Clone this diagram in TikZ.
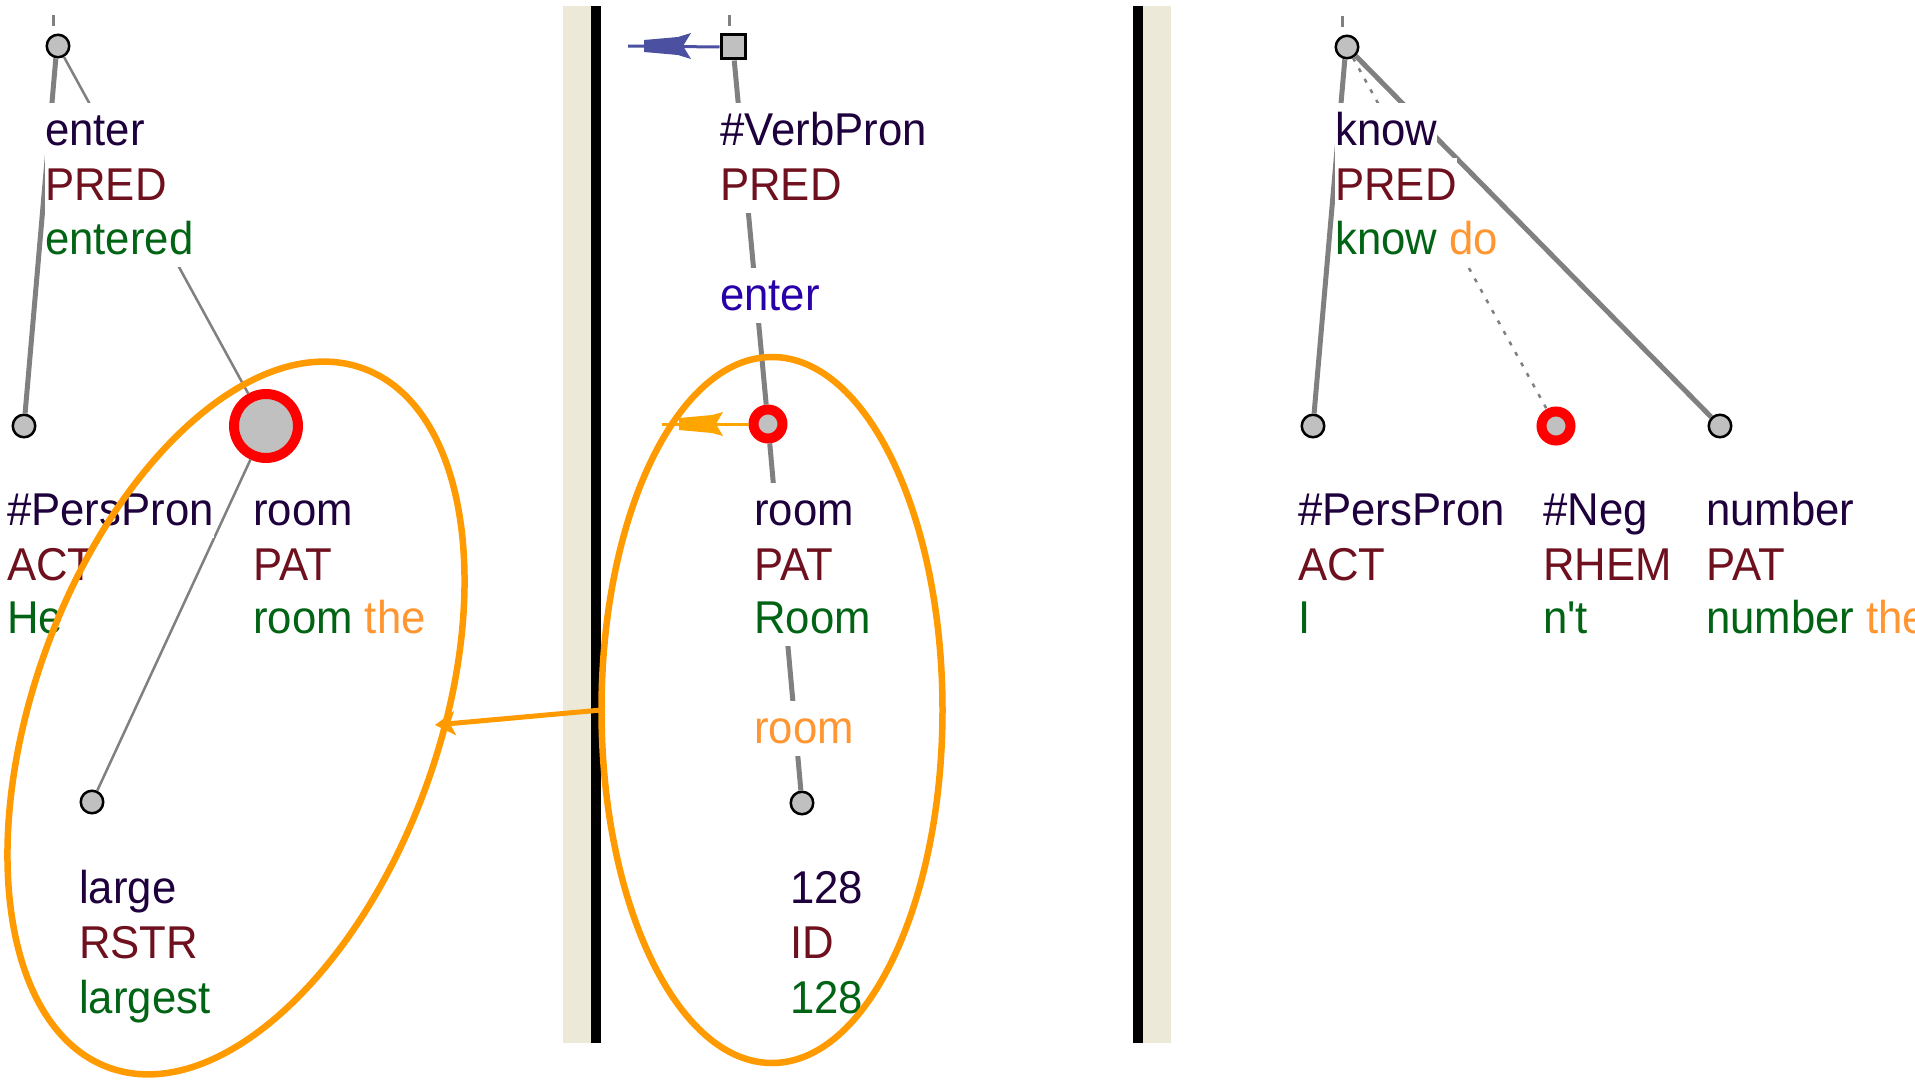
\documentclass[tikz,border=0pt]{standalone}
\usepackage{fontspec}
\setmainfont{Liberation Sans}[FakeStretch=0.95,Ligatures=TeXOff]
\usetikzlibrary{arrows.meta,shapes.geometric}
\definecolor{lem}{RGB}{30,0,60}
\definecolor{fun}{RGB}{110,16,30}
\definecolor{frm}{RGB}{0,100,20}
\definecolor{orw}{RGB}{255,150,50}
\definecolor{blu}{RGB}{40,0,170}
\definecolor{ellc}{RGB}{255,155,0}
\definecolor{arb}{RGB}{75,80,160}
\definecolor{aro}{RGB}{255,165,0}
\definecolor{beige}{RGB}{236,233,216}
\definecolor{ndg}{RGB}{192,192,192}
\definecolor{lng}{RGB}{128,128,128}
\begin{document}
\begin{tikzpicture}[x=1pt,y=1pt,
  txt/.style={anchor=base west, inner xsep=0pt, inner ysep=0pt, text height=42pt, text depth=13pt, fill=white, font=\fontsize{46}{55}\selectfont},
  gnode/.style={circle, draw=black, fill=ndg, line width=2.5pt, minimum size=22.5pt, inner sep=0pt},
  rnode/.style={circle, draw=red, fill=ndg, line width=10pt, minimum size=29pt, inner sep=0pt},
  bigr/.style={circle, draw=red, fill=ndg, line width=10pt, minimum size=64pt, inner sep=0pt},
  sqnode/.style={rectangle, draw=black, fill=ndg, line width=3pt, minimum size=24pt, inner sep=0pt},
  thickl/.style={draw=lng, line width=5pt},
  thinl/.style={draw=lng, line width=2.5pt},
  dotl/.style={draw=lng, line width=2.5pt, dash pattern=on 4pt off 8pt},
  oell/.style={ellipse, draw=ellc, line width=6.5pt, inner sep=0pt, outer sep=0pt},
]
\useasboundingbox (0,0) rectangle (1915,-1081);
\fill[white] (0,0) rectangle (1915,-1081);
% panel separators
\fill[beige] (563,-6) rectangle (591,-1043);
\fill[black] (591,-6) rectangle (601,-1043);
\fill[black] (1133,-6) rectangle (1143,-1043);
\fill[beige] (1143,-6) rectangle (1171,-1043);

% nodes
\node[gnode] (L0) at (58,-46) {};
\node[gnode] (L1) at (24,-426) {};
\node[bigr]  (L2) at (266,-426) {};
\node[gnode] (L3) at (92,-802) {};
\node[sqnode] (M0) at (733,-47) {};
\node[rnode] (M1) at (768,-424) {};
\node[gnode] (M2) at (802,-803) {};
\node[gnode] (R0) at (1347,-47) {};
\node[gnode] (R1) at (1313,-426) {};
\node[rnode] (R2) at (1556,-426) {};
\node[gnode] (R3) at (1720,-426) {};

% stubs above roots
\coordinate (L0s) at (53,-15); \coordinate (L0t) at (53,-26);
\coordinate (M0s) at (729,-15); \coordinate (M0t) at (729,-26);
\coordinate (R0s) at (1342,-16); \coordinate (R0t) at (1342,-27);
\draw[thinl, line width=3pt] (L0s) -- (L0t);
\draw[thinl, line width=3pt] (M0s) -- (M0t);
\draw[thinl, line width=3pt] (R0s) -- (R0t);

% edges
\draw[thickl] (L0.-100) -- (L1);
\draw[thinl] (L0) -- (L2);
\draw[thinl] (L2) -- (L3);
\draw[thickl] (M0) -- (M1);
\draw[thickl] (M1) -- (M2);
\draw[thickl] (R0.-100) -- (R1);
\draw[thickl] (R0) -- (R3);
\draw[dotl] (R0) -- (R2);

% small arrows
\coordinate (bTail) at (628,-46);
\draw[arb, line width=3pt] (M0.west) -- (bTail);
\fill[arb] (644,-40) -- (644,-52) -- (678,-55) -- (691,-59) -- (683,-46) -- (691,-33) -- (678,-37) -- cycle;
\coordinate (oTail) at (662,-424);
\draw[aro, line width=3pt] (M1.west) -- (oTail);
\fill[aro] (679,-418) -- (679,-430) -- (712,-433) -- (723,-436) -- (716,-424) -- (723,-412) -- (712,-415) -- cycle;

% texts left
\node[txt, text=lem] (t1) at (45,-145) {enter};
\node[txt, text=fun] (t2) at (45,-200) {PRED};
\node[txt, text=frm] (t3) at (45,-254) {entered};
\node[txt, text=lem] (t4) at (7,-525) {\#PersPron};
\node[txt, text=fun] (t5) at (7,-580) {ACT};
\node[txt, text=frm] (t6) at (7,-633) {He};
\node[txt, text=lem] (t7) at (253,-525) {room};
\node[txt, text=fun] (t8) at (253,-580) {PAT};
\node[txt, text=frm] (t9) at (253,-633) {room \textcolor{orw}{the}};
\node[txt, text=lem] (t10) at (79,-903) {large};
\node[txt, text=fun] (t11) at (79,-958) {RSTR};
\node[txt, text=frm] (t12) at (79,-1013) {largest};
% texts middle
\node[txt, text=lem] (u1) at (720,-145) {\#VerbPron};
\node[txt, text=fun] (u2) at (720,-200) {PRED};
\node[txt, text=blu] (u3) at (720,-310) {enter};
\node[txt, text=lem] (u4) at (754,-525) {room};
\node[txt, text=fun] (u5) at (754,-580) {PAT};
\node[txt, text=frm] (u6) at (754,-633) {Room};
\node[txt, text=orw] (u7) at (754,-743) {room};
\node[txt, text=lem] (u8) at (790,-903) {128};
\node[txt, text=fun] (u9) at (790,-958) {ID};
\node[txt, text=frm] (u10) at (790,-1013) {128};
% texts right
\node[txt, text=lem] (v1) at (1335,-145) {know};
\node[txt, text=fun] (v2) at (1335,-200) {PRED};
\node[txt, text=frm] (v3) at (1335,-254) {know \textcolor{orw}{do}};
\node[txt, text=lem] (v4) at (1298,-525) {\#PersPron};
\node[txt, text=fun] (v5) at (1298,-580) {ACT};
\node[txt, text=frm] (v6) at (1298,-633) {I};
\node[txt, text=lem] (v7) at (1543,-525) {\#Neg};
\node[txt, text=fun] (v8) at (1543,-580) {RHEM};
\node[txt, text=frm] (v9) at (1543,-633) {n't};
\node[txt, text=lem] (v10) at (1706,-525) {number};
\node[txt, text=fun] (v11) at (1706,-580) {PAT};
\node[txt, text=frm] (v12) at (1706,-633) {number \textcolor{orw}{the}};

% orange ellipses and arrow
\node[oell, minimum width=404pt, minimum height=744pt, rotate=-20] (Lell) at (236,-718) {};
\node[oell, minimum width=341pt, minimum height=706pt] (Mell) at (772,-710) {};
\coordinate (ltip) at (435,-725);
\draw[ellc, line width=5pt, -{Stealth[length=20pt,width=24pt,inset=5pt]}] (Mell.west) -- (ltip);
\end{tikzpicture}
\end{document}
